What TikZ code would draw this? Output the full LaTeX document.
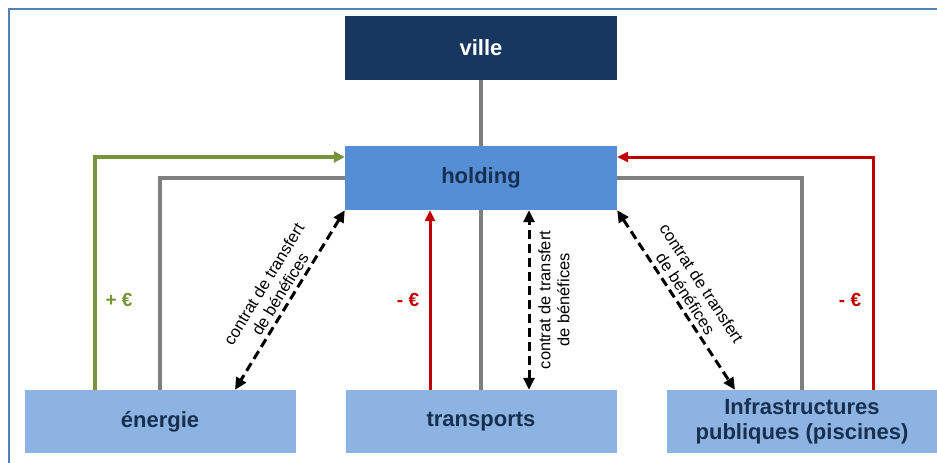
\documentclass[tikz,border=0pt]{standalone}
\usepackage{fontspec}
\setmainfont{Liberation Sans}
\usepackage{tikz}
\usetikzlibrary{arrows.meta}
\definecolor{villeblue}{HTML}{17375E}
\definecolor{holdblue}{HTML}{558ED5}
\definecolor{subblue}{HTML}{8DB3E2}
\definecolor{boxtext}{HTML}{17304F}
\definecolor{frameblue}{HTML}{4F81BD}
\definecolor{linegray}{HTML}{7F7F7F}
\definecolor{plusgreen}{HTML}{77933C}
\definecolor{minusred}{HTML}{C00000}
\def\bigtext{\fontsize{22}{25}\selectfont\bfseries}
\def\smalltext{\fontsize{16.5}{19}\selectfont}

\begin{document}
\begin{tikzpicture}[x=1pt,y=-1pt,
    box/.style={minimum width=272pt,minimum height=64pt,inner sep=0pt,
                align=center,text=boxtext,font=\bigtext},
    subbox/.style={box,fill=subblue,minimum height=63pt,minimum width=271pt},
    link/.style={draw=linegray,line width=4pt},
    gain/.style={draw=plusgreen,line width=3.5pt,-{Triangle[length=11pt,width=11pt]}},
    loss/.style={draw=minusred,line width=3pt,-{Triangle[length=11pt,width=10pt]}},
    contract/.style={line width=3pt,dash pattern=on 9pt off 5pt,
                     {Triangle[length=12pt,width=11pt]}-{Triangle[length=12pt,width=11pt]}},
    euro/.style={font=\fontsize{19}{20}\selectfont\bfseries},
    contractlabel/.style={midway,sloped,align=center,font=\smalltext,inner sep=1pt}]
\useasboundingbox (0,0) rectangle (937,463);
% frame
\draw[frameblue,line width=2.5pt] (9,480) -- (9,9) -- (960,9);

% boxes
\node[box,fill=villeblue,text=white] (ville) at (481,48) {ville};
\node[box,fill=holdblue] (holding) at (481,178) {holding};
\node[subbox] (energie) at (160,421.5) {énergie};
\node[subbox] (transports) at (481,421.5) {transports};
\node[subbox] (infra) at (802,421.5) {Infrastructures\\publiques (piscines)};

% ownership
\draw[link] (ville) -- (holding);
\draw[link] (energie.north) |- (holding.west);
\draw[link] (transports.north) -- (holding.south);
\draw[link] (infra.north) |- (holding.east);

% money flows
\draw[gain] ([xshift=-65pt]energie.north) |- ([yshift=21pt]holding.west);
\draw[loss] ([xshift=-51pt]transports.north) -- ([xshift=-51pt]holding.south);
\draw[loss] ([xshift=71pt]infra.north) |- ([yshift=21pt]holding.east);
\node[euro,text=plusgreen] (plus) at (119,300) {+ €};
\node[euro,text=minusred] (minusa) at (408,300) {- €};
\node[euro,text=minusred] (minusb) at (850,300) {- €};

% contracts
\draw[contract] (holding.south west) -- ([xshift=75pt]energie.north)
    node[contractlabel,above=3pt] {contrat de transfert\\de bénéfices};
\draw[contract] ([xshift=48pt]transports.north) -- ([xshift=48pt]holding.south)
    node[contractlabel,below=7pt] {contrat de transfert\\de bénéfices};
\draw[contract] (holding.south east) -- ([xshift=-67pt]infra.north)
    node[contractlabel,above=3pt] {contrat de transfert\\de bénéfices};
\end{tikzpicture}
\end{document}
